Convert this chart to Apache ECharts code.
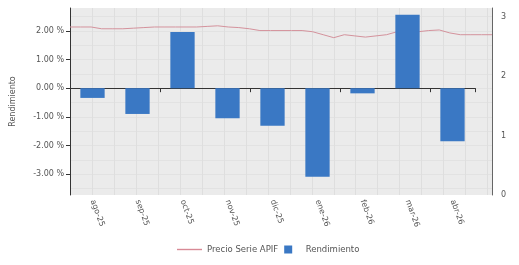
<!DOCTYPE html>
<html>
<head>
<meta charset="utf-8">
<script src="https://cdn.jsdelivr.net/npm/echarts@6/dist/echarts.min.js"></script>
<style>html,body{margin:0;padding:0;background:#fff}#c{width:519px;height:265px}</style>
</head>
<body>
<div id="c"></div>
<script>
var categories = ['ago-25','sep-25','oct-25','nov-25','dic-25','ene-26','feb-26','mar-26','abr-26'];
var rendimiento = [-0.34, -0.90, 1.96, -1.05, -1.31, -3.09, -0.18, 2.56, -1.85];
var precio = [2.83,2.83,2.83,2.80,2.80,2.80,2.81,2.82,2.83,2.83,2.83,2.83,2.83,2.84,2.85,2.83,2.82,2.80,2.77,2.77,2.77,2.77,2.77,2.75,2.70,2.65,2.70,2.68,2.66,2.68,2.70,2.75,2.77,2.75,2.77,2.78,2.73,2.70,2.70,2.70,2.70];
var leftTicks = [-3,-2,-1,0,1,2];
var rightTicks = [0,1,2,3];
var names = {line:'Precio Serie APIF', bar:'Rendimiento'};

var precioIdx = precio.map(function(_, i){ return String(i); });
var gridHalf = [];
for (var k = -3.5; k <= 2.5; k += 0.5) gridHalf.push(k);

var font = 'DejaVu Sans';
var chart = echarts.init(document.getElementById('c'));
chart.setOption({
  animation: false,
  grid: [
    {left:70, right:27, top:8, bottom:70, show:true, backgroundColor:'#ebebeb', borderWidth:0, outerBoundsMode:'none', containLabel:false},
    {left:70, right:44, top:8, bottom:70, outerBoundsMode:'none', containLabel:false}
  ],
  legend: {
    bottom: 6, left: 172, itemGap: 6, symbolKeepAspect: true,
    textStyle: {fontFamily: font, fontSize: 8.5, color: '#555'},
    data: [
      {name: names.line, icon: 'path://M0,0 L25,0 L25,1.4 L0,1.4 Z',
        itemStyle:{color:'#d88a96', borderWidth:0}},
      {name: names.bar, icon: 'path://M0,0 L8,0 L8,8 L0,8 Z'}
    ],
    itemWidth: 25, itemHeight: 8
  },
  xAxis: [
    {gridIndex:0, type:'category', data: precioIdx, boundaryGap:false, show:false},
    {gridIndex:0, type:'value', min:0, max:19.2, interval:1, position:'top',
      axisLine:{show:false}, axisTick:{show:false}, axisLabel:{show:false},
      splitLine:{show:true, lineStyle:{color:'#dedede', width:1}}},
    {gridIndex:1, type:'category', data: categories, boundaryGap:true, position:'bottom',
      axisLine:{show:true, onZero:true, lineStyle:{color:'#333', width:1}},
      axisTick:{show:true, length:4, lineStyle:{color:'#333'}},
      axisLabel:{show:false}},
    {gridIndex:1, type:'category', data: categories, boundaryGap:true, position:'bottom',
      axisLine:{show:false, onZero:false}, axisTick:{show:false}, splitLine:{show:false},
      axisLabel:{show:true, rotate:-70, margin:5, fontFamily:font, fontSize:8, color:'#555', interval:0}}
  ],
  yAxis: [
    {gridIndex:0, type:'value', position:'left', min:-3.73, max:2.80,
      name:'Rendimiento', nameLocation:'middle', nameRotate:90, nameGap:53,
      nameTextStyle:{fontFamily:font, fontSize:8, color:'#555'},
      axisLine:{show:true, lineStyle:{color:'#333'}},
      axisTick:{show:true, length:4, customValues:leftTicks, lineStyle:{color:'#333'}},
      axisLabel:{customValues:leftTicks, fontFamily:font, fontSize:8, color:'#555', margin:6,
        formatter:function(v){ return v.toFixed(2) + ' %'; }},
      splitLine:{show:false}},
    {gridIndex:0, type:'value', position:'right', min:0, max:3.15, interval:1,
      axisLine:{show:true, lineStyle:{color:'#666'}},
      axisTick:{show:false},
      axisLabel:{fontFamily:font, fontSize:8, color:'#555', margin:9,
        customValues:rightTicks},
      splitLine:{show:false}},
    {gridIndex:0, type:'value', position:'left', min:-3.73, max:2.80,
      axisLine:{show:false}, axisLabel:{show:false},
      axisTick:{show:false, customValues:gridHalf},
      splitLine:{show:true, lineStyle:{color:'#e2e2e2'}}},
    {gridIndex:1, type:'value', min:-3.73, max:2.80, show:false}
  ],
  series: [
    {name:names.line, type:'line', xAxisIndex:0, yAxisIndex:1, data:precio,
      showSymbol:false, symbol:'none', z:1,
      lineStyle:{color:'#d4929c', width:1}, itemStyle:{color:'#d4929c'}},
    {name:names.bar, type:'bar', xAxisIndex:2, yAxisIndex:3, data:rendimiento,
      barWidth:'54%', z:3, itemStyle:{color:'#3a78c4'}}
  ]
});
</script>
</body>
</html>
